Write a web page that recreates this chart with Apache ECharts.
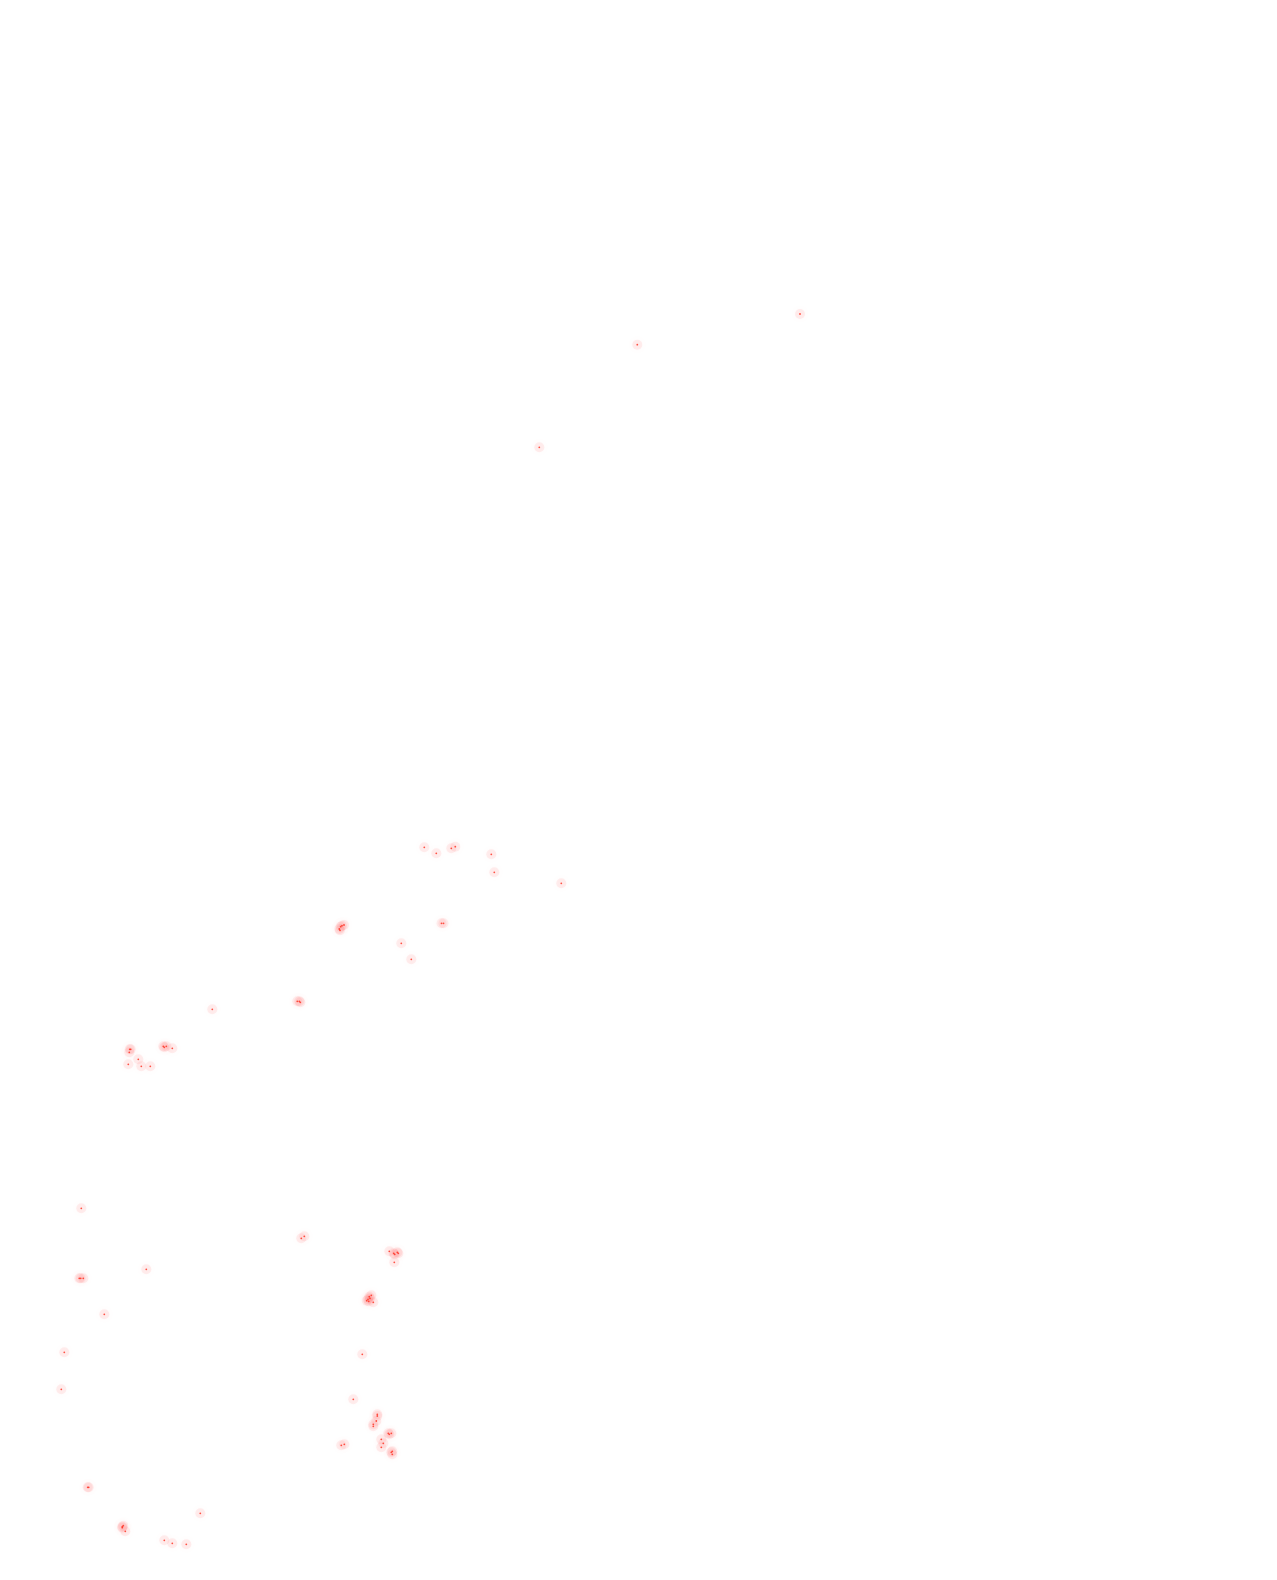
<!DOCTYPE html>
<html>
<head>
<meta charset="utf-8">
<script src="https://cdn.jsdelivr.net/npm/echarts@6/dist/echarts.min.js"></script>
<style>
html,body{margin:0;padding:0;background:#fff;}
#main{width:1277px;height:1580px;}
</style>
</head>
<body>
<div id="main"></div>
<script>
// Point positions (x, y); y grows downward
const xs = [
  800, 637.3, 539.3,
  424.3, 436.3, 451.3, 455.3, 491.3, 494.3, 561.3,
  339.3, 340.7, 342, 344, 340,
  441.5, 443.5, 401.3, 411.3, 212.3,
  297.3, 299.3, 300.3,
  129.7, 130.7, 129.3,
  163.3, 164.3, 166.3, 172.3,
  138.3, 128.3, 141.3, 150.3,
  81.3, 301.3, 304.3,
  389.3, 393.7, 394.7, 397.3, 398.3, 394.3,
  146.3, 79.3, 80.7, 83.3,
  371.3, 369.3, 370, 368, 366.7, 368.7, 373.3,
  104.3, 64.3, 362.3,
  61.3, 353.3, 377.3, 377.3, 376.3, 373.3, 373.3,
  388.3, 389.3, 391.3, 381.3, 383.3, 381.3,
  341.3, 344.3, 392.3, 391.3, 392.3,
  87.7, 88.7, 200.3,
  122.3, 123.3, 122.3, 125.3,
  164.3, 172.3, 186.3
];
const ys = [
  314, 344.7, 447.3,
  847.3, 853.3, 848.3, 846.7, 854.3, 872.3, 883.3,
  929, 926.7, 925.7, 925, 930.3,
  923.3, 923.3, 943.3, 959.3, 1009.3,
  1001.3, 1001.3, 1002.3,
  1049.3, 1049.3, 1052.3,
  1046.3, 1047.3, 1046.3, 1048.3,
  1059.3, 1064.3, 1066.3, 1066.3,
  1208.3, 1238.3, 1236.3,
  1251.3, 1253.3, 1254.3, 1252.3, 1253.3, 1262.3,
  1269.3, 1278.3, 1278.3, 1278.3,
  1295.3, 1296.7, 1298.3, 1299.3, 1300.7, 1301.3, 1302.3,
  1314.3, 1352.3, 1354.3,
  1389.3, 1399.3, 1414.3, 1416, 1421, 1424.3, 1426.3,
  1433.3, 1434.3, 1433.3, 1439.3, 1443.3, 1447.3,
  1445.3, 1444.3, 1451.3, 1452.3, 1454.3,
  1487.3, 1487.3, 1513.3,
  1526.7, 1525.7, 1527.7, 1531.3,
  1540.3, 1543.3, 1544.3
];

const points = xs.map((x, i) => [x, ys[i]]);

const chart = echarts.init(document.getElementById('main'), null, {renderer: 'canvas'});
chart.setOption({
  backgroundColor: '#ffffff',
  animation: false,
  grid: {left: 0, right: 0, top: 0, bottom: 0, containLabel: false},
  xAxis: {type: 'value', min: 0, max: 1277, show: false},
  yAxis: {type: 'value', min: 0, max: 1580, inverse: true, show: false},
  series: [{
    type: 'scatter',
    name: 'glow',
    data: points,
    symbol: 'circle',
    symbolSize: 10,
    silent: true,
    itemStyle: {
      color: 'rgba(255, 90, 90, 0.13)',
      shadowBlur: 8,
      shadowColor: 'rgba(255, 70, 70, 0.3)'
    }
  }, {
    type: 'scatter',
    name: 'dots',
    data: points,
    symbol: 'circle',
    symbolSize: 1.8,
    itemStyle: {
      color: '#ff2a1a'
    }
  }]
});
</script>
</body>
</html>
